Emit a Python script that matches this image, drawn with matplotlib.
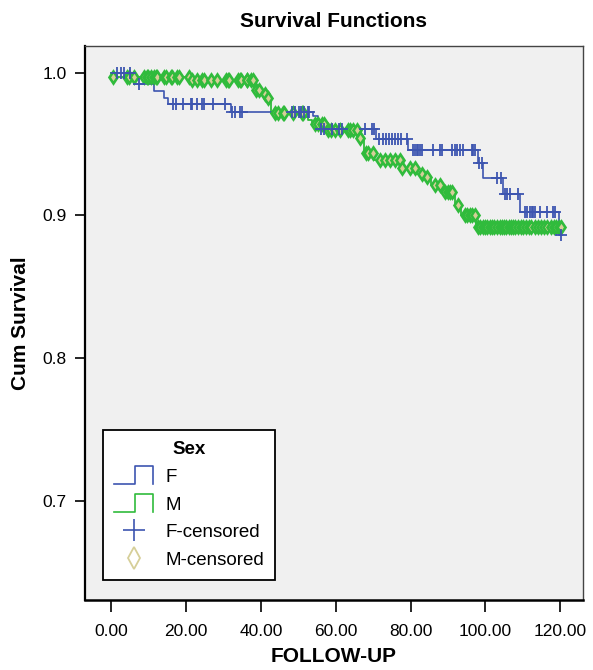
import numpy as np
import matplotlib
matplotlib.use("Agg")
import matplotlib.pyplot as plt
from matplotlib.lines import Line2D
from matplotlib.legend_handler import HandlerBase

plt.rcParams['font.family'] = ['Liberation Sans', 'DejaVu Sans']

# ---------------- data ----------------
f_event_times = [6.2, 11.5, 14.2, 15.1, 32.0, 53.9, 55.2, 70.8, 79.3, 98.1, 99.4, 104.7, 109.3, 119.7]
f_event_surv = [0.992, 0.987, 0.982, 0.978, 0.9725, 0.9695, 0.9604, 0.9538, 0.9458, 0.9364, 0.926, 0.9148, 0.9024, 0.8863]
f_end_time = 120.6
f_censor_times = [1.6, 2.7, 3.5, 5.1, 7.5,
                  16.6, 17.4, 19.3, 21.2, 21.7, 23.0, 24.4, 24.9, 27.1, 30.3,
                  32.3, 33.2, 34.3, 35.0, 48.2, 49.0, 50.2, 50.6, 51.4, 52.5, 52.8,
                  56.2, 57.0, 58.9, 61.0, 61.6, 67.8, 69.6, 70.3,
                  71.5, 72.6, 73.5, 74.2, 75.0, 75.8, 76.6, 77.4, 79.0,
                  80.6, 81.2, 81.7, 82.0, 82.5, 83.1, 86.0, 87.9, 88.4, 91.1, 91.9,
                  92.4, 93.3, 94.1, 96.4, 96.7, 97.3,
                  98.4, 99.1, 103.0, 104.2, 105.3, 105.8, 106.6, 108.8,
                  110.6, 111.2, 112.0, 112.5, 112.8, 113.3, 114.7, 116.5, 118.1, 118.7,
                  120.3]

m_event_times = [0.2, 21.2, 38.3, 40.2, 41.5, 42.6, 51.5, 52.5, 53.6, 57.5, 66.2, 67.5, 70.3,
                 77.5, 81.8, 83.8, 85.6, 88.6, 91.8, 93.5, 97.5]
m_event_surv = [0.997, 0.9945, 0.988, 0.985, 0.982, 0.972, 0.969, 0.9665, 0.964, 0.960, 0.954,
                0.944, 0.939, 0.9335, 0.929, 0.927, 0.921, 0.916, 0.907, 0.900, 0.892]
m_end_time = 121.0
m_censor_times = [0.4, 4.3, 4.8, 6.2, 8.8, 9.6, 9.9, 10.7, 11.5, 12.1, 12.3, 14.2, 14.7, 16.1,
                  16.3, 17.7, 18.2, 20.9,
                  21.7, 23.0, 24.4, 24.9, 26.8, 28.4, 30.8, 31.1, 31.6, 33.8, 34.3, 34.8,
                  36.2, 36.4, 37.5, 37.8,
                  38.8, 39.6, 41.0, 41.8,
                  43.7, 44.5, 45.8, 46.3, 48.5, 50.9, 51.2,
                  54.4, 55.2, 56.3, 57.0,
                  57.9, 58.7, 59.7, 61.1, 63.2, 63.8, 64.6, 65.6,
                  66.4, 68.0, 68.6, 69.9,
                  71.8, 73.1, 74.5, 75.8, 77.1,
                  77.8, 79.8, 81.2, 83.0, 84.4, 86.5, 87.9,
                  89.2, 90.0, 90.5, 91.1, 92.7,
                  94.6, 95.1, 95.9, 96.4, 97.2,
                  98.0, 98.6, 99.3, 99.8, 100.4, 101.3, 101.9, 102.4, 103.2, 103.9, 104.5,
                  105.0, 105.6, 106.2, 106.8, 107.3, 107.9, 108.6, 109.4, 110.1, 110.8,
                  111.6, 112.3, 113.2, 114.0, 114.9, 115.8, 116.6, 117.6, 118.3, 119.0,
                  119.6, 120.2]

x_ticks = [0, 20, 40, 60, 80, 100, 120]
y_ticks = [0.7, 0.8, 0.9, 1.0]
group_labels = ['F', 'M', 'F-censored', 'M-censored']

# ---------------- style ----------------
blue = '#3d55b0'
green = '#30bb3c'
tan = '#d6cf99'


def step_arrays(ev_t, ev_s, end_t):
    t = np.concatenate([[0.0], ev_t, [end_t]])
    s = np.concatenate([[1.0], ev_s, [ev_s[-1]]])
    return t, s


def surv_at(ev_t, ev_s, times):
    levels = np.concatenate([[1.0], ev_s])
    idx = np.searchsorted(np.asarray(ev_t), np.asarray(times), side='right')
    return levels[idx]


W, H = 593, 670
fig = plt.figure(figsize=(W / 100, H / 100), dpi=100)
ax = fig.add_axes([85 / W, 1 - 600 / H, 498 / W, 554 / H])
ax.set_facecolor('#f0f0f0')

ft, fs = step_arrays(f_event_times, f_event_surv, f_end_time)
mt, ms = step_arrays(m_event_times, m_event_surv, m_end_time)

ax.step(ft, fs, where='post', color=blue, lw=1.2, zorder=3)
ax.step(mt, ms, where='post', color=green, lw=1.3, zorder=2)

ax.plot(m_censor_times, surv_at(m_event_times, m_event_surv, m_censor_times),
        linestyle='none', marker='d', markersize=6.0, markerfacecolor=tan,
        markeredgecolor=green, markeredgewidth=1.9, zorder=4)
ax.plot(f_censor_times, surv_at(f_event_times, f_event_surv, f_censor_times),
        linestyle='none', marker='+', markersize=8, color=blue,
        markeredgewidth=1.3, zorder=5)

ax.set_xlim(-7.0, 126.1)
ax.set_ylim(0.6306, 1.0186)
ax.set_xticks(x_ticks)
ax.set_xticklabels([f"{v:.2f}" for v in x_ticks])
ax.set_yticks(y_ticks)
ax.set_yticklabels([f"{v:.1f}" for v in y_ticks])
ax.tick_params(axis='x', direction='out', length=8.5, width=1.2, labelsize=12.5,
               colors='black', pad=8.5)
ax.tick_params(axis='y', direction='out', length=7.5, width=1.2, labelsize=12.5,
               colors='black', pad=5.5)

for side in ['top', 'right']:
    ax.spines[side].set_color('#444444')
    ax.spines[side].set_linewidth(1)
ax.spines['left'].set_color('black')
ax.spines['left'].set_linewidth(1.6)
ax.spines['bottom'].set_color('black')
ax.spines['bottom'].set_linewidth(1.8)

ax.set_title('Survival Functions', fontsize=15, fontweight='bold', pad=14)
ax.set_xlabel('FOLLOW-UP', fontsize=15, fontweight='bold', labelpad=6)
ax.set_ylabel('Cum Survival', fontsize=15, fontweight='bold', labelpad=9)


class StepHandler(HandlerBase):
    def create_artists(self, legend, orig_handle, xdescent, ydescent, width, height,
                       fontsize, trans):
        x0 = -xdescent
        y0 = -ydescent
        lo = y0 + 0.5 * height - 6.5
        hi = y0 + 0.5 * height + 6.5
        xs = [x0, x0 + 0.54 * width, x0 + 0.54 * width, x0 + width, x0 + width]
        ys = [lo, lo, hi, hi, lo]
        ln = Line2D(xs, ys, color=orig_handle.get_color(), lw=1.2, transform=trans)
        return [ln]


h_f = Line2D([], [], color=blue)
h_m = Line2D([], [], color=green)
h_fc = Line2D([], [], linestyle='none', marker='+', markersize=16, color=blue, markeredgewidth=1.2)
h_mc = Line2D([], [], linestyle='none', marker='d', markersize=11, markerfacecolor='none',
              markeredgecolor=tan, markeredgewidth=1.3)

leg = ax.legend([h_f, h_m, h_fc, h_mc], group_labels, title='Sex',
                handler_map={h_f: StepHandler(), h_m: StepHandler()},
                loc='lower left', bbox_to_anchor=(0.0361, 0.0361), borderaxespad=0,
                fontsize=13.5, title_fontproperties={'weight': 'bold', 'size': 13.5},
                frameon=True, fancybox=False, edgecolor='black', facecolor='white',
                framealpha=1, handlelength=2.08, handleheight=0.9, labelspacing=0.5,
                borderpad=0.6, handletextpad=0.64)
leg.get_frame().set_linewidth(1.3)
leg.set_zorder(10)

fig.savefig('out.png', dpi=100)
